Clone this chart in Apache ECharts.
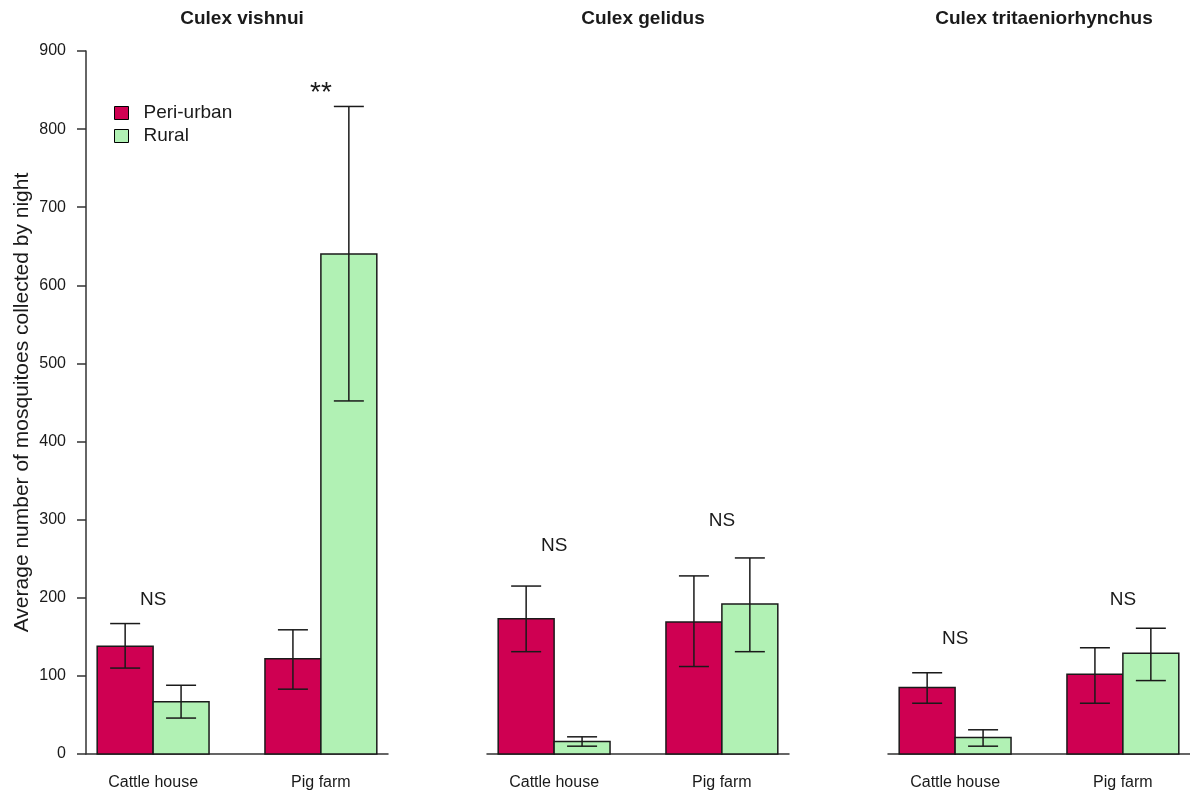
<!DOCTYPE html>
<html>
<head>
<meta charset="utf-8">
<script src="https://cdn.jsdelivr.net/npm/echarts@6/dist/echarts.min.js"></script>
<style>html,body{margin:0;padding:0;background:#fff}#c{width:1190px;height:798px}</style>
</head>
<body>
<div id="c"></div>
<script>
const categories = ['Cattle house', 'Pig farm'];
const species = ['Culex vishnui', 'Culex gelidus', 'Culex tritaeniorhynchus'];
const seriesNames = ['Peri-urban', 'Rural'];
const yTicks = [0, 100, 200, 300, 400, 500, 600, 700, 800, 900];

// per species: [Cattle house, Pig farm]
const periMean  = [[138, 122], [173, 169], [85, 102]];
const periLow   = [[110, 83],  [131, 112], [65, 65]];
const periHigh  = [[167, 159], [215, 228], [104, 136]];
const ruralMean = [[67, 640],  [16, 192],  [21, 129]];
const ruralLow  = [[46, 452],  [10, 131],  [10, 94]];
const ruralHigh = [[88, 829],  [22, 251],  [31, 161]];
const sigLabels = [['NS', '**'], ['NS', 'NS'], ['NS', 'NS']];
const sigY      = [[198, 846], [267, 298], [148, 197]];

const colors = ['#CF0052', '#B1F1B4'];
const FONT = '"Liberation Sans", Arial, sans-serif';
const gridLefts = [86, 487, 888];
const gridWidth = 302;

function groupCenter(g) { return 2 + 3 * g; }
function barCenter(g, s) { return 1 + 3 * g + s + 0.5; }

function renderBar(params, api) {
  const x = api.value(0), m = api.value(1), lo = api.value(2), hi = api.value(3);
  const p0 = api.coord([x - 0.5, 0]);
  const p1 = api.coord([x + 0.5, m]);
  const a = api.coord([x, lo]);
  const b = api.coord([x, hi]);
  const cap = 15;
  const ls = { stroke: '#1a1a1a', lineWidth: 1.5 };
  return {
    type: 'group',
    children: [
      { type: 'rect', shape: { x: p0[0], y: p1[1], width: p1[0] - p0[0], height: p0[1] - p1[1] },
        style: { fill: api.visual('color'), stroke: '#1a1a1a', lineWidth: 1.5 } },
      { type: 'line', shape: { x1: a[0], y1: a[1], x2: b[0], y2: b[1] }, style: ls },
      { type: 'line', shape: { x1: a[0] - cap, y1: a[1], x2: a[0] + cap, y2: a[1] }, style: ls },
      { type: 'line', shape: { x1: b[0] - cap, y1: b[1], x2: b[0] + cap, y2: b[1] }, style: ls }
    ]
  };
}

const grids = [], xAxes = [], yAxes = [], series = [], titles = [];
species.forEach((sp, g) => {
  grids.push({ left: gridLefts[g], width: gridWidth, top: 51, bottom: 44 });
  titles.push({ text: sp, left: gridLefts[g] + gridWidth / 2, top: 4, textAlign: 'center',
    textStyle: { fontFamily: FONT, fontSize: 19, fontWeight: 'bold', color: '#1a1a1a' } });
  xAxes.push({
    type: 'value', gridIndex: g, min: 0.8, max: 6.2,
    splitLine: { show: false },
    axisTick: { show: false },
    axisLine: { show: true, onZero: false, lineStyle: { color: '#333', width: 1.5 } },
    axisLabel: {
      show: true, margin: 21, customValues: categories.map((c, i) => groupCenter(i)),
      formatter: v => categories[Math.round((v - 2) / 3)],
      fontFamily: FONT, fontSize: 16, color: '#1a1a1a'
    }
  });
  const first = g === 0;
  yAxes.push({
    type: 'value', gridIndex: g, min: yTicks[0], max: yTicks[yTicks.length - 1], interval: 100,
    splitLine: { show: false },
    axisLine: { show: first, onZero: false, lineStyle: { color: '#333', width: 1.5 } },
    axisTick: { show: first, length: 9, lineStyle: { color: '#333', width: 1.5 } },
    axisLabel: { show: first, margin: 20, fontFamily: FONT, fontSize: 16, color: '#1a1a1a' },
    name: first ? 'Average number of mosquitoes collected by night' : '',
    nameLocation: 'middle', nameRotate: 90, nameGap: 53,
    nameTextStyle: { fontFamily: FONT, fontSize: 21, color: '#1a1a1a' }
  });
  const means = [periMean[g], ruralMean[g]];
  const lows = [periLow[g], ruralLow[g]];
  const highs = [periHigh[g], ruralHigh[g]];
  seriesNames.forEach((nm, s) => {
    series.push({
      type: 'custom', name: nm, xAxisIndex: g, yAxisIndex: g,
      itemStyle: { color: colors[s] },
      renderItem: renderBar,
      encode: { x: 0, y: 1 },
      data: categories.map((c, i) => [barCenter(i, s), means[s][i], lows[s][i], highs[s][i]])
    });
  });
  series.push({
    type: 'custom', name: 'sig' + g, xAxisIndex: g, yAxisIndex: g, silent: true,
    renderItem: (params, api) => {
      const i = params.dataIndex;
      const p = api.coord([groupCenter(i), sigY[g][i]]);
      const txt = sigLabels[g][i];
      const size = txt === '**' ? 28 : 19;
      return { type: 'text', x: p[0], y: p[1],
        style: { text: txt, font: size + 'px ' + FONT, fill: '#1a1a1a', textAlign: 'center', textVerticalAlign: 'middle' } };
    },
    encode: { x: 0, y: 1 },
    data: categories.map((c, i) => [groupCenter(i), sigY[g][i]])
  });
});

const chart = echarts.init(document.getElementById('c'), null, { renderer: 'canvas' });
chart.setOption({
  backgroundColor: '#fff',
  animation: false,
  title: titles,
  legend: {
    data: seriesNames, orient: 'vertical', left: 114, top: 103, padding: 0,
    icon: 'rect', itemWidth: 14, itemHeight: 13, itemGap: 3,
    itemStyle: { borderColor: '#000', borderWidth: 1 },
    textStyle: { fontFamily: FONT, fontSize: 19, lineHeight: 20, color: '#1a1a1a', padding: [0, 0, 0, 10] },
    selectedMode: false
  },
  grid: grids,
  xAxis: xAxes,
  yAxis: yAxes,
  series: series
});
</script>
</body>
</html>
